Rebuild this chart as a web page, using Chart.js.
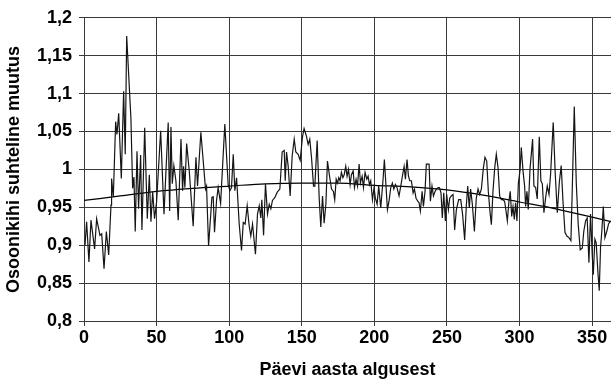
<!DOCTYPE html>
<html>
<head>
<meta charset="utf-8">
<script src="https://cdn.jsdelivr.net/npm/chart.js@4.4.1/dist/chart.umd.min.js"></script>
<style>
  html, body { margin: 0; padding: 0; background: #fff; }
  #wrap { width: 611px; height: 384px; }
</style>
</head>
<body>
<div id="wrap"><canvas id="ozoneChart" width="611" height="384"></canvas></div>
<script>
// day of year and relative ozone change
const days = [
  0.7, 1.8, 3.4, 4.8, 7.3, 8.7, 11.0, 12.2, 13.8, 15.4, 17.0, 18.6, 19.0, 20.2, 21.8, 22.7, 23.9, 25.7, 27.3, 28.4,
  29.4, 32.3, 33.5, 34.4, 35.3, 36.5, 37.6, 39.0, 39.9, 41.8, 43.6, 45.0, 46.1, 47.3, 48.6, 50.0, 52.8, 55.1, 58.0, 59.0,
  59.9, 60.8, 61.9, 63.3, 64.9, 66.8, 67.9, 68.6, 69.5, 70.7, 72.5, 75.2, 77.1, 78.2, 80.5, 83.7, 84.4, 85.8, 88.1, 89.0,
  89.9, 91.3, 92.4, 94.1, 97.0, 99.3, 100.5, 101.6, 102.8, 103.9, 105.1, 106.9, 108.5, 109.7, 111.0, 112.4, 113.8, 114.9, 116.1, 118.1,
  119.5, 120.7, 121.8, 122.5, 123.7, 125.0, 126.4, 127.6, 128.7, 129.8, 131.5, 133.1, 134.9, 136.5, 137.9, 138.6, 139.5, 140.6, 142.0, 143.4,
  144.8, 145.9, 147.5, 148.9, 150.5, 151.6, 153.2, 154.4, 155.5, 156.7, 158.1, 159.0, 160.6, 162.0, 163.1, 164.3, 165.4, 166.6, 167.7, 169.3,
  170.5, 171.8, 172.7, 173.7, 174.6, 175.5, 176.4, 177.3, 178.3, 179.2, 180.3, 181.2, 182.2, 183.3, 184.2, 185.4, 186.3, 187.4, 188.4, 189.5,
  190.4, 191.6, 192.5, 193.6, 194.8, 195.7, 196.6, 197.5, 198.7, 199.8, 200.7, 201.9, 203.0, 204.4, 206.0, 206.9, 207.8, 209.0, 210.1, 211.3,
  212.4, 213.4, 214.5, 215.6, 217.0, 218.2, 219.3, 220.5, 221.4, 222.5, 223.5, 224.4, 225.5, 226.7, 227.6, 228.7, 229.9, 230.8, 231.7, 232.9,
  233.8, 234.9, 235.8, 237.7, 238.6, 239.7, 240.7, 241.8, 242.7, 243.9, 244.8, 245.9, 246.8, 247.8, 248.9, 249.8, 251.0, 251.9, 253.0, 254.2,
  255.3, 256.5, 258.1, 259.5, 260.8, 262.2, 263.4, 264.3, 265.4, 266.3, 267.5, 268.9, 270.2, 271.4, 272.5, 273.7, 275.1, 276.2, 277.4, 278.5,
  279.7, 280.6, 281.7, 282.9, 284.0, 285.2, 286.3, 287.5, 288.6, 289.7, 290.7, 291.6, 292.7, 293.6, 294.6, 295.5, 296.4, 297.3, 298.2, 299.2,
  300.3, 301.2, 302.4, 303.5, 304.2, 305.1, 306.0, 307.2, 309.0, 309.9, 311.1, 312.2, 313.6, 314.7, 315.7, 316.8, 318.0, 319.1, 320.3, 321.4,
  323.2, 324.6, 326.0, 327.4, 328.7, 329.9, 331.3, 332.6, 334.0, 335.4, 336.3, 337.7, 339.1, 340.4, 341.8, 343.2, 344.3, 345.5, 346.6, 347.8,
  348.9, 350.1, 350.8, 351.9, 352.8, 354.0, 354.9, 355.8, 356.7, 357.7, 358.8, 360.2, 361.3, 362.7
];
const ozone = [
  0.900, 0.931, 0.878, 0.933, 0.895, 0.935, 0.913, 0.915, 0.869, 0.918, 0.887, 0.953, 0.988, 0.964, 1.063, 1.046, 1.074, 0.988, 1.103, 1.020,
  1.176, 1.068, 0.975, 0.990, 0.918, 1.024, 0.948, 1.019, 0.920, 1.055, 0.935, 0.993, 0.931, 0.970, 0.935, 0.957, 1.051, 0.941, 1.062, 0.945,
  1.056, 0.981, 1.005, 0.985, 0.933, 1.040, 0.972, 1.004, 0.976, 1.034, 0.998, 0.925, 1.016, 0.978, 1.049, 0.974, 0.978, 0.899, 0.963, 0.964,
  0.917, 0.959, 0.976, 0.955, 1.060, 0.980, 0.972, 0.976, 1.020, 0.972, 0.989, 0.928, 0.893, 0.930, 0.928, 0.952, 0.925, 0.912, 0.928, 0.888,
  0.941, 0.952, 0.936, 0.960, 0.913, 0.981, 0.941, 0.954, 0.948, 0.959, 0.963, 0.970, 0.974, 1.023, 1.025, 0.985, 1.023, 1.005, 0.965, 1.018,
  1.040, 1.023, 1.020, 1.012, 1.043, 1.054, 1.044, 1.033, 1.040, 1.016, 0.978, 0.978, 1.038, 0.962, 0.924, 0.965, 0.929, 0.954, 1.011, 0.989,
  0.974, 0.971, 0.960, 0.987, 0.982, 0.989, 0.985, 0.996, 0.989, 0.993, 1.004, 0.991, 1.000, 0.980, 0.993, 0.998, 0.976, 0.987, 0.978, 1.007,
  0.982, 0.991, 0.976, 0.996, 0.987, 0.991, 0.980, 0.985, 0.960, 0.976, 0.962, 0.954, 0.978, 0.949, 0.987, 1.013, 0.985, 0.947, 0.958, 0.976,
  0.982, 0.974, 0.980, 0.976, 0.965, 0.978, 0.991, 1.004, 0.987, 1.013, 0.991, 0.985, 0.985, 0.969, 0.974, 0.962, 0.958, 0.956, 0.945, 0.971,
  0.951, 0.971, 1.007, 1.007, 0.958, 0.978, 0.965, 0.971, 0.974, 0.976, 0.976, 0.969, 0.936, 0.969, 0.932, 0.967, 0.947, 0.962, 0.965, 0.967,
  0.920, 0.947, 0.960, 0.960, 0.940, 0.907, 0.954, 0.978, 0.949, 0.974, 0.954, 0.918, 0.962, 0.974, 0.967, 0.974, 1.002, 1.016, 1.011, 0.971,
  0.943, 0.927, 0.971, 1.002, 1.020, 1.002, 0.965, 0.960, 0.960, 0.958, 0.945, 0.932, 0.958, 0.971, 0.938, 0.951, 0.934, 0.956, 0.932, 0.982,
  0.998, 1.029, 0.998, 0.978, 0.951, 0.971, 0.947, 1.000, 1.040, 0.978, 0.976, 0.961, 1.043, 0.985, 0.981, 0.943, 0.963, 0.978, 0.967, 0.994,
  1.062, 0.994, 0.943, 0.983, 1.005, 0.959, 0.917, 0.912, 0.910, 0.906, 0.972, 1.083, 0.981, 0.928, 0.894, 0.896, 0.919, 0.932, 0.936, 0.877,
  0.941, 0.886, 0.861, 0.908, 0.903, 0.864, 0.840, 0.897, 0.919, 0.951, 0.910, 0.919, 0.928, 0.932
];

// smooth trend curve
const trendDays = [0, 25, 50, 75, 100, 125, 150, 175, 200, 225, 250, 275, 300, 325, 350, 363];
const trendValues = [0.959, 0.965, 0.971, 0.975, 0.978, 0.981, 0.982, 0.982, 0.979, 0.977, 0.973, 0.966, 0.957, 0.948, 0.937, 0.931];

const xTicks = [0, 50, 100, 150, 200, 250, 300, 350];

const gridColor = '#3a3a3a';
const fontFamily = "'Liberation Sans', Arial, sans-serif";

const ctx = document.getElementById('ozoneChart').getContext('2d');
new Chart(ctx, {
  type: 'line',
  data: {
    datasets: [
      {
        label: 'Osoon',
        data: days.map((d, i) => ({ x: d, y: ozone[i] })),
        borderColor: '#151515',
        borderWidth: 1.2,
        pointRadius: 0,
        tension: 0,
        fill: false
      },
      {
        label: 'Trend',
        data: trendDays.map((d, i) => ({ x: d, y: trendValues[i] })),
        borderColor: '#000',
        borderWidth: 1.2,
        pointRadius: 0,
        tension: 0.4,
        cubicInterpolationMode: 'monotone',
        fill: false
      }
    ]
  },
  options: {
    responsive: false,
    animation: false,
    devicePixelRatio: 1,
    layout: { padding: { top: 17, right: 0, left: 0, bottom: 0 } },
    plugins: {
      legend: { display: false },
      tooltip: { enabled: false }
    },
    scales: {
      x: {
        type: 'linear',
        min: 0,
        max: 363,
        afterBuildTicks: scale => {
          scale.ticks = xTicks.map(v => ({ value: v }));
        },
        afterFit: scale => { scale.height = 63; },
        grid: { color: gridColor, lineWidth: 1, tickLength: 5, tickColor: gridColor },
        border: { display: true, color: gridColor },
        ticks: {
          color: '#000',
          padding: 1,
          maxRotation: 0,
          font: { family: fontFamily, size: 18, weight: 'bold' }
        },
        title: {
          display: true,
          text: 'Päevi aasta algusest',
          color: '#000',
          padding: { top: 2, bottom: 3 },
          font: { family: fontFamily, size: 18, weight: 'bold' }
        }
      },
      y: {
        min: 0.8,
        max: 1.2,
        afterFit: scale => { scale.width = 84; },
        grid: { color: gridColor, lineWidth: 1, tickLength: 5, tickColor: gridColor },
        border: { display: true, color: gridColor },
        ticks: {
          stepSize: 0.05,
          color: '#000',
          padding: 7,
          font: { family: fontFamily, size: 18, weight: 'bold' },
          callback: v => String(Number(v.toFixed(2))).replace('.', ',')
        },
        title: {
          display: true,
          text: 'Osoonikihi suhteline muutus',
          color: '#000',
          padding: { top: 3, bottom: 0 },
          font: { family: fontFamily, size: 18, weight: 'bold' }
        }
      }
    }
  }
});
</script>
</body>
</html>
